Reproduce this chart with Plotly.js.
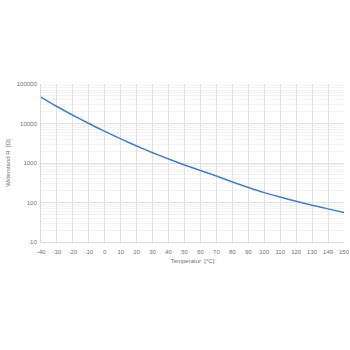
<!DOCTYPE html>
<html><head><meta charset="utf-8">
<script src="https://cdn.plot.ly/plotly-3.0.1.min.js"></script>
<style>html,body{margin:0;padding:0;background:#fff}#c{width:350px;height:350px}</style>
</head><body><div id="c"></div>
<script>
const temperatures = [-40,-30,-20,-10,0,10,20,30,40,50,60,70,80,90,100,110,120,130,140,150];
const resistance = [46800,26900,16200,10000,6310,4070,2690,1820,1260,890,646,468,331,240,178,138,107,85,69,56];
const xTickVals = [-40,-30,-20,-10,0,10,20,30,40,50,60,70,80,90,100,110,120,130,140,150];
const xTickText = ["-40","-30","-20","-10","0","10","20","30","40","50","60","70","80","90","100","110","120","130","149","150"];
const yTickVals = [10,100,1000,10000,100000];
const yTickText = ["10","100","1000","10000","100000"];

const font = {family:'Liberation Sans, Arial, sans-serif', size:6, color:'#6f6f6f'};
Plotly.newPlot('c', [{
  x: temperatures, y: resistance, type:'scatter', mode:'lines',
  line:{color:'#4a7ebb', width:1.5, shape:'spline', smoothing:0.6}
}], {
  width:350, height:350,
  margin:{l:41, r:6, t:84, b:108},
  paper_bgcolor:'#fff', plot_bgcolor:'#fff',
  showlegend:false,
  font: font,
  xaxis:{range:[-40,150], tickvals:xTickVals, ticktext:xTickText, tickangle:0,
    showgrid:true, gridcolor:'#e2e2e2', gridwidth:1, zeroline:false,
    showline:true, linecolor:'#d9d9d9', ticks:'', tickfont:font, ticklabelstandoff:4,
    title:{text:'Temperatur  [°C]', font:font, standoff:4}},
  yaxis:{type:'log', range:[1,5], tickvals:yTickVals, ticktext:yTickText,
    showgrid:true, gridcolor:'#e2e2e2', gridwidth:1, zeroline:false,
    showline:true, linecolor:'#d9d9d9', ticks:'', tickfont:font, ticklabelstandoff:2,
    minor:{dtick:'D1', showgrid:true, gridcolor:'#f3f3f3', gridwidth:1, ticks:''},
    title:{text:'Widerstand R  [Ω]', font:font, standoff:5}}
}, {displayModeBar:false, staticPlot:true});
</script></body></html>
